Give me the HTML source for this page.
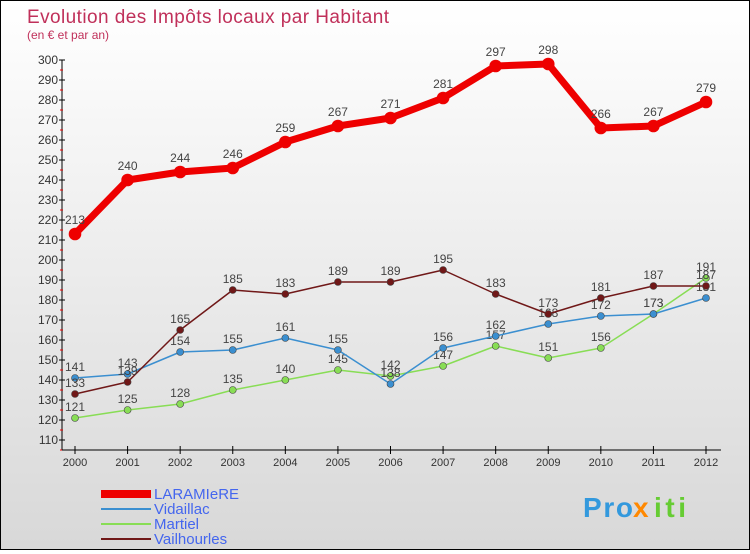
<!DOCTYPE html>
<html><head><meta charset="utf-8"><style>
body{margin:0;}
#wrap{width:748px;height:548px;border:1px solid #000;background:linear-gradient(#fff,#d8d8d8);position:relative;font-family:"Liberation Sans",sans-serif;}
</style></head><body>
<div id="wrap">
<svg id="chart" width="748" height="548"></svg>
</div>
<script>
const years=["2000","2001","2002","2003","2004","2005","2006","2007","2008","2009","2010","2011","2012"];
const laramiere=[213,240,244,246,259,267,271,281,297,298,266,267,279];
const vidaillac=[141,143,154,155,161,155,138,156,162,168,172,173,181];
const martiel=[121,125,128,135,140,145,142,147,157,151,156,173,191];
const vailhourles=[133,139,165,185,183,189,189,195,183,173,181,187,187];
const yTicks=[110,120,130,140,150,160,170,180,190,200,210,220,230,240,250,260,270,280,290,300];
const seriesNames=["LARAMIeRE","Vidaillac","Martiel","Vailhourles"];
const NS="http://www.w3.org/2000/svg";
const svg=document.getElementById('chart');
function X(i){return 74+i*(631/12);}
function Y(v){return 59+(300-v)*2;}
function el(t,a,p){const e=document.createElementNS(NS,t);for(const k in a)e.setAttribute(k,a[k]);(p||svg).appendChild(e);return e;}
function txt(x,y,s,a,p){const e=el('text',Object.assign({x:x,y:y},a),p);e.textContent=s;return e;}
let t=txt(26,22,"Evolution des Impôts locaux par Habitant",{fill:'#c0305a','font-size':19,textLength:362});

t=txt(26,38,"(en € et par an)",{fill:'#c0305a','font-size':12});

const ax=el('g',{});
el('line',{x1:61,y1:Y(300),x2:61,y2:Y(110)+10,stroke:'#000'},ax);
yTicks.forEach(v=>{el('line',{x1:58,x2:64,y1:Y(v),y2:Y(v),stroke:'#000'},ax);
 el('line',{x1:59,x2:62,y1:Y(v)+10,y2:Y(v)+10,stroke:'#e00'},ax);
 txt(57,Y(v)+4,String(v),{'text-anchor':'end','font-size':12,fill:'#333'},ax);});
const xa=el('g',{});
el('line',{x1:61,x2:720,y1:449,y2:449,stroke:'#000'},xa);
years.forEach((y,i)=>{el('line',{x1:X(i),x2:X(i),y1:445,y2:453,stroke:'#000'},xa);
 txt(X(i),465,y,{'text-anchor':'middle','font-size':11,fill:'#333'},xa);});
function series(data,color,w,r,name){
 const g=el('g',{});
 el('polyline',{points:data.map((v,i)=>X(i)+','+Y(v)).join(' '),fill:'none',stroke:color,'stroke-width':w,'stroke-linejoin':'round'},g);
 data.forEach((v,i)=>{const c=el('circle',{cx:X(i),cy:Y(v),r:r,fill:color,stroke:w>3?color:'#444','stroke-width':0.6},g);
  
  txt(X(i),Y(v)-(w>3?10:7),String(v),{'text-anchor':'middle','font-size':12,fill:'#444'},g);});
}
series(martiel,'#88dd55',1.5,3.5,'martiel-series');
series(vidaillac,'#3b8fd0',1.5,3.5,'vidaillac-series');
series(vailhourles,'#701818',1.5,3.5,'vailhourles-series');
series(laramiere,'#ee0000',7,6,'laramiere-series');
const cols=['#ee0000','#3b8fd0','#88dd55','#701818'],ws=[8,2,2,2];
seriesNames.forEach((n,i)=>{const g=el('g',{});
 const y=493+i*15;el('line',{x1:100,x2:150,y1:y,y2:y,stroke:cols[i],'stroke-width':ws[i]},g);
 txt(153,y+5,n,{'font-size':15,fill:'#4466ee'},g);});
t=txt(582,516,"Pro",{'font-size':28,'font-weight':'bold',fill:'#3399dd',textLength:50});

txt(632,516,"x",{'font-size':28,'font-weight':'bold',fill:'#ff8800'});
txt(653,516,"iti",{'font-size':28,'font-weight':'bold',fill:'#66cc33',textLength:32});
</script>
</body></html>
